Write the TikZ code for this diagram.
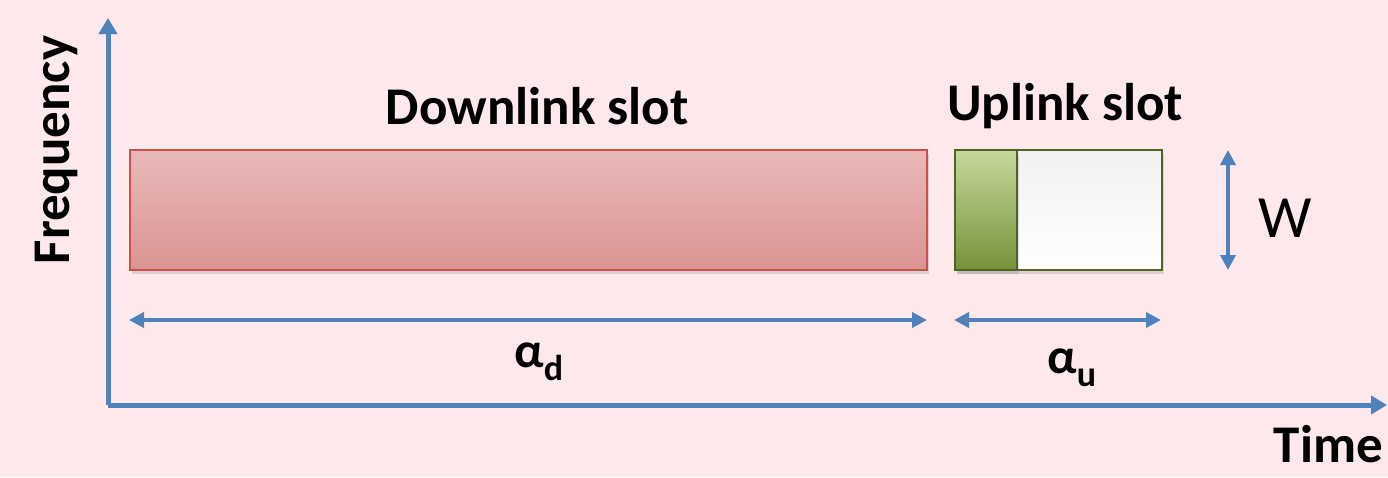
\documentclass[tikz,border=0pt]{standalone}
\usepackage{fontspec}
\setmainfont{Carlito}
\usetikzlibrary{arrows.meta,shadows}
\definecolor{bg}{RGB}{253,233,235}
\definecolor{ax}{RGB}{79,129,189}
\definecolor{redtop}{RGB}{233,185,185}
\definecolor{redbot}{RGB}{217,148,146}
\definecolor{redline}{RGB}{200,80,78}
\definecolor{greentop}{RGB}{198,216,157}
\definecolor{greenbot}{RGB}{118,146,58}
\definecolor{greenline}{RGB}{79,98,40}
\definecolor{whitetop}{RGB}{241,241,241}
\tikzset{
  axis/.style={draw=ax,line width=5pt,-{Triangle[length=16pt,width=18pt]}},
  dim/.style={draw=ax,line width=4pt,{Triangle[length=15pt,width=15pt]}-{Triangle[length=15pt,width=15pt]}},
  slot/.style={draw, line width=2pt, minimum height=120pt, inner sep=0pt, anchor=north west,
    drop shadow={shadow xshift=2pt,shadow yshift=-4pt,opacity=0.25}},
  lbl/.style={font=\bfseries\fontsize{53}{58}\selectfont, inner sep=0pt},
  alab/.style={font=\bfseries\fontsize{50}{54}\selectfont, inner sep=0pt, anchor=base west},
}
\newcommand{\mysub}[1]{\raisebox{-0.26em}{\fontsize{36}{40}\selectfont\bfseries #1}}
\begin{document}
\begin{tikzpicture}[x=1pt,y=-1pt]
\fill[bg] (0,0) rectangle (1388,477);
\useasboundingbox (0,0) rectangle (1388,477);
% slots
\node[slot, draw=redline, top color=redtop, bottom color=redbot, minimum width=797pt] (dl) at (129,149) {};
\node[slot, draw=greenline, top color=whitetop, bottom color=white, minimum width=207pt] (ul) at (954,149) {};
\node[slot, draw=greenline, top color=greentop, bottom color=greenbot, minimum width=62pt, drop shadow={opacity=0}] (ulg) at (954,149) {};
% axes
\coordinate (o) at (108,405);
\coordinate (ytop) at (108,18);
\coordinate (xend) at (1387,405);
\draw[axis] (o) -- (ytop);
\draw[axis] (o) -- (xend);
% labels
\node[lbl] (dlt) at (537,106) {Downlink slot};
\node[lbl] (ult) at (1065,106) {Uplink slot};
\node[lbl, rotate=90] (freq) at (56,150) {Frequency};
\node[lbl, anchor=base east] (time) at (1383,462) {Time};
% dimension arrows
\coordinate (d1) at (129,320);
\coordinate (d2) at (927,320);
\draw[dim] (d1) -- (d2);
\coordinate (u1) at (954,320);
\coordinate (u2) at (1161,320);
\draw[dim] (u1) -- (u2);
\coordinate (w1) at (1228,150);
\coordinate (w2) at (1228,270);
\draw[dim] (w1) -- (w2);
\node[font=\fontsize{60}{64}\selectfont, inner sep=0pt] (wl) at (1285,218) {W};
\node[alab] (ad) at (514,367) {α\mysub{d}};
\node[alab] (au) at (1047,373) {α\mysub{u}};
\end{tikzpicture}
\end{document}
